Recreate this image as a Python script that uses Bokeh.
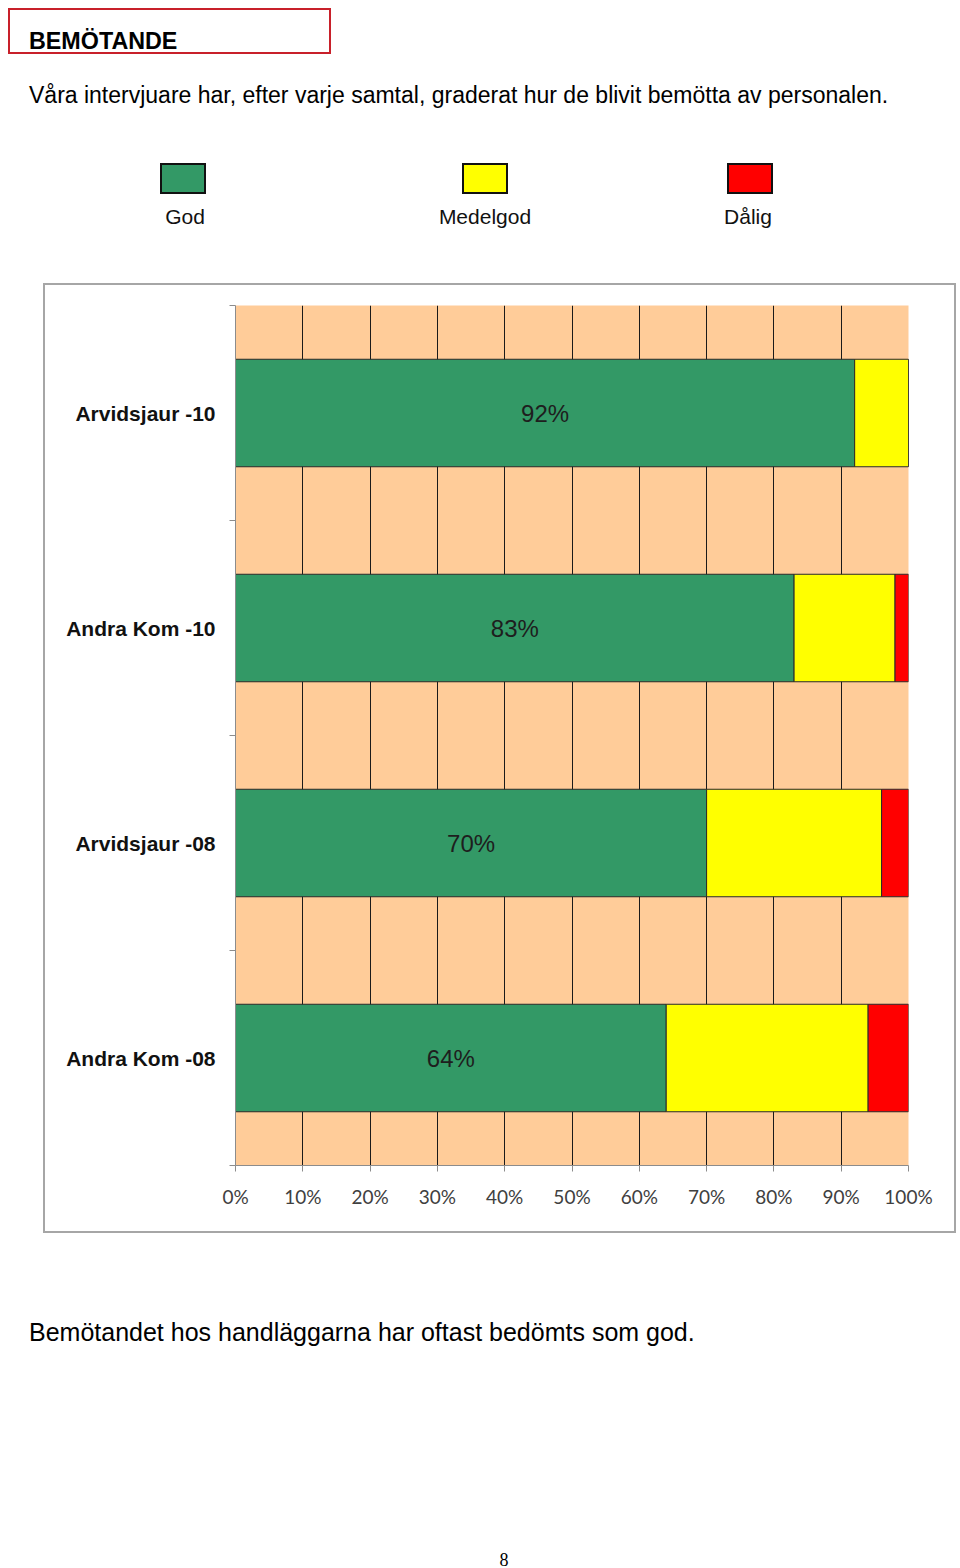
from bokeh.plotting import figure
from bokeh.models import (ColumnDataSource, Range1d, FixedTicker, PrintfTickFormatter,
                          Div, Spacer)
from bokeh.layouts import column, row
from bokeh.core.properties import value
from bokeh.embed import file_html
from bokeh.resources import INLINE

# ---------------- data ----------------
categories = ["Arvidsjaur -10", "Andra Kom -10", "Arvidsjaur -08", "Andra Kom -08"]
god = [92, 83, 70, 64]
medelgod = [8, 15, 26, 30]
dalig = [0, 2, 4, 6]
series_names = ["God", "Medelgod", "Dålig"]
series_colors = ["#339966", "#FFFF00", "#FF0000"]
x_ticks = [0, 10, 20, 30, 40, 50, 60, 70, 80, 90, 100]

title_text = "BEMÖTANDE"
subtitle_text = "Våra intervjuare har, efter varje samtal, graderat hur de blivit bemötta av personalen."
footer_text = "Bemötandet hos handläggarna har oftast bedömts som god."
page_number = "8"

# ---------------- header (title, subtitle, legend) ----------------
swatch_centers = [183, 485, 750]
label_centers = [185, 485, 748]
legend_html = ""
for name, col, cx, lx in zip(series_names, series_colors, swatch_centers, label_centers):
    legend_html += (
        f'<div style="position:absolute;left:{cx-23}px;top:163px;width:46px;height:31px;'
        f'box-sizing:border-box;border:2px solid #111;background:{col};"></div>'
        f'<div style="position:absolute;left:{lx-100}px;top:206px;width:200px;text-align:center;'
        f'font-size:21px;line-height:1;color:#111;">{name}</div>'
    )

header_html = (
    '<div style="position:relative;width:960px;height:283px;'
    'font-family:\'Liberation Sans\',Arial,sans-serif;color:#000;">'
    '<div style="position:absolute;left:8px;top:8px;width:323px;height:46px;'
    'box-sizing:border-box;border:2px solid #c8202a;"></div>'
    f'<div style="position:absolute;left:29px;top:30px;font-size:23.3px;line-height:1;'
    f'font-weight:bold;">{title_text}</div>'
    f'<div style="position:absolute;left:29px;top:84px;font-size:23px;line-height:1;'
    f'white-space:nowrap;">{subtitle_text}</div>'
    + legend_html +
    '</div>'
)
header = Div(text=header_html, width=960, height=283, margin=0)

# ---------------- chart ----------------
n = len(categories)
ypos = [i + 0.5 for i in range(n)]
source = ColumnDataSource(dict(
    y=ypos, cat=categories, god=god, medelgod=medelgod, dalig=dalig,
    label_x=[v / 2 for v in god], label=[f"{v}%" for v in god],
))

p = figure(width=913, height=950, output_backend="svg", toolbar_location=None,
           x_range=Range1d(0, 100), y_range=Range1d(n, 0),
           min_border_left=192, min_border_right=48, min_border_top=22, min_border_bottom=68,
           background_fill_color="#FFCC99", border_fill_color=None,
           outline_line_color=None, margin=0,
           styles={"box-shadow": "inset 0 0 0 2px #a6a6a6"})

p.hbar_stack(["god", "medelgod", "dalig"], y="y", height=0.5, color=series_colors,
             line_color="#2a2a2a", line_width=1, source=source)

p.text(x="label_x", y="y", text="label", source=source,
       text_font=value("Liberation Sans"), text_font_size="24px",
       text_color="#1e1e1e", text_align="center", text_baseline="middle")

# x axis
p.xaxis.ticker = FixedTicker(ticks=x_ticks)
p.xaxis.formatter = PrintfTickFormatter(format="%d%%")
p.xaxis.axis_line_color = "#8c8c8c"
p.xaxis.major_tick_line_color = "#8c8c8c"
p.xaxis.major_tick_out = 6
p.xaxis.major_tick_in = 0
p.xaxis.minor_tick_line_color = None
p.xaxis.major_label_text_font = "Lato"
p.xaxis.major_label_text_font_size = "19px"
p.xaxis.major_label_text_color = "#404040"
p.xaxis.major_label_standoff = 13

# y axis
p.yaxis.ticker = FixedTicker(ticks=ypos, minor_ticks=[float(i) for i in range(n + 1)])
p.yaxis.major_label_overrides = {y: c for y, c in zip(ypos, categories)}
p.yaxis.axis_line_color = "#8c8c8c"
p.yaxis.major_tick_line_color = None
p.yaxis.major_tick_out = 0
p.yaxis.major_tick_in = 0
p.yaxis.minor_tick_line_color = "#8c8c8c"
p.yaxis.minor_tick_out = 6
p.yaxis.minor_tick_in = 0
p.yaxis.major_label_text_font = "Liberation Sans"
p.yaxis.major_label_text_font_style = "bold"
p.yaxis.major_label_text_font_size = "21px"
p.yaxis.major_label_text_color = "#111111"
p.yaxis.major_label_standoff = 14

# grid
p.xgrid.ticker = FixedTicker(ticks=x_ticks)
p.xgrid.grid_line_color = "#1a1a1a"
p.xgrid.grid_line_width = 1
p.ygrid.grid_line_color = None

# ---------------- footer ----------------
footer_html = (
    '<div style="position:relative;width:960px;height:335px;color:#000;">'
    f'<div style="position:absolute;left:29px;top:87px;font-family:\'Liberation Sans\',Arial,sans-serif;'
    f'font-size:25px;line-height:1;white-space:nowrap;">{footer_text}</div>'
    f'<div style="position:absolute;left:464px;top:318px;width:80px;text-align:center;'
    f'font-family:\'Liberation Serif\',serif;font-size:18px;line-height:1;">{page_number}</div>'
    '</div>'
)
footer = Div(text=footer_html, width=960, height=335, margin=0)

layout = column(header, row(Spacer(width=43, height=950, margin=0), p, spacing=0, margin=0),
                footer, spacing=0, margin=0)

open("out.html", "w").write(file_html(layout, INLINE))
